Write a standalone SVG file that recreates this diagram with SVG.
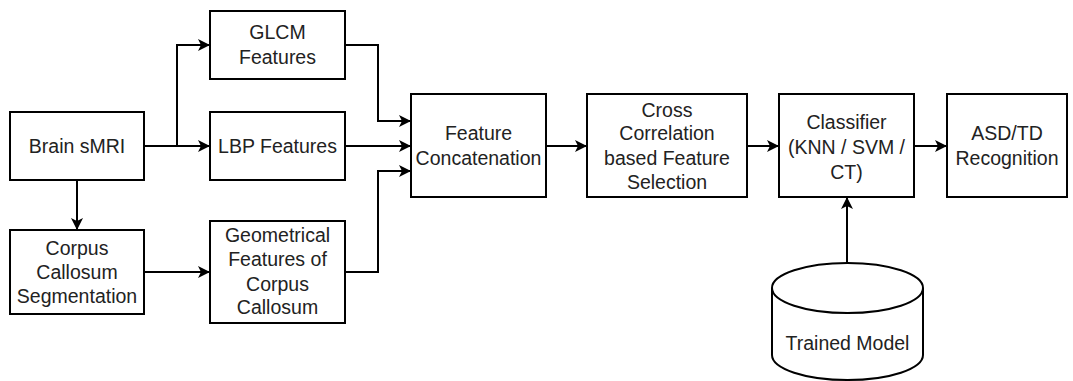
<svg xmlns="http://www.w3.org/2000/svg" width="1073" height="381" viewBox="0 0 1073 381">
<style>
.box{fill:#fff;stroke:#000;stroke-width:2}
.t{font-family:"Liberation Sans",Arial,sans-serif;font-size:19.5px;fill:#222;text-anchor:middle}
.c{fill:none;stroke:#000;stroke-width:2}
</style>
<defs>
<marker id="ah" markerWidth="12" markerHeight="12" viewBox="0 0 12 12" refX="11" refY="6" orient="auto" markerUnits="userSpaceOnUse">
<path d="M0,0 L12,6 L0,12 L3,6 Z" fill="#000"/>
</marker>
</defs>
<rect width="1073" height="381" fill="#fff"/>
<g id="connectors">
<path class="c" d="M144,146 H209" marker-end="url(#ah)"/>
<path class="c" d="M177,146 V45 H209" marker-end="url(#ah)"/>
<path class="c" d="M77,180 V229" marker-end="url(#ah)"/>
<path class="c" d="M144,272 H209" marker-end="url(#ah)"/>
<path class="c" d="M345,45 H378 V121 H410" marker-end="url(#ah)"/>
<path class="c" d="M345,146 H410" marker-end="url(#ah)"/>
<path class="c" d="M345,272 H378 V171 H410" marker-end="url(#ah)"/>
<path class="c" d="M546,146 H586" marker-end="url(#ah)"/>
<path class="c" d="M747,146 H778" marker-end="url(#ah)"/>
<path class="c" d="M914,146 H946" marker-end="url(#ah)"/>
<path class="c" d="M847,263 V198" marker-end="url(#ah)"/>
</g>
<g id="brain">
<rect class="box" x="10" y="112" width="134" height="68"/>
<text class="t" x="77" y="153">Brain sMRI</text>
</g>
<g id="glcm">
<rect class="box" x="210" y="11" width="135" height="68"/>
<text class="t" x="277.5" y="39">GLCM</text>
<text class="t" x="277.5" y="64">Features</text>
</g>
<g id="lbp">
<rect class="box" x="210" y="112" width="135" height="68"/>
<text class="t" x="277.5" y="153">LBP Features</text>
</g>
<g id="corpus">
<rect class="box" x="10" y="230" width="134" height="84"/>
<text class="t" x="77" y="255">Corpus</text>
<text class="t" x="77" y="279">Callosum</text>
<text class="t" x="77" y="303">Segmentation</text>
</g>
<g id="geom">
<rect class="box" x="210" y="221" width="135" height="102"/>
<text class="t" x="277.5" y="242">Geometrical</text>
<text class="t" x="277.5" y="266">Features of</text>
<text class="t" x="277.5" y="291">Corpus</text>
<text class="t" x="277.5" y="314">Callosum</text>
</g>
<g id="concat">
<rect class="box" x="411" y="94" width="135" height="103"/>
<text class="t" x="478.5" y="140">Feature</text>
<text class="t" x="478.5" y="165">Concatenation</text>
</g>
<g id="ccfs">
<rect class="box" x="587" y="94" width="160" height="103"/>
<text class="t" x="667" y="117">Cross</text>
<text class="t" x="667" y="140">Correlation</text>
<text class="t" x="667" y="165">based Feature</text>
<text class="t" x="667" y="189">Selection</text>
</g>
<g id="classifier">
<rect class="box" x="779" y="94" width="135" height="103"/>
<text class="t" x="846.5" y="129">Classifier</text>
<text class="t" x="846.5" y="154">(KNN / SVM /</text>
<text class="t" x="846.5" y="179">CT)</text>
</g>
<g id="asd">
<rect class="box" x="947" y="94" width="120" height="103"/>
<text class="t" x="1007" y="140">ASD/TD</text>
<text class="t" x="1007" y="165">Recognition</text>
</g>
<g id="model">
<path class="box" d="M772,288 A75.5,25 0 0 1 923,288 V355 A75.5,25 0 0 1 772,355 Z"/>
<path class="c" d="M772,288 A75.5,25 0 0 0 923,288"/>
<text class="t" x="847.5" y="350">Trained Model</text>
</g>
</svg>
